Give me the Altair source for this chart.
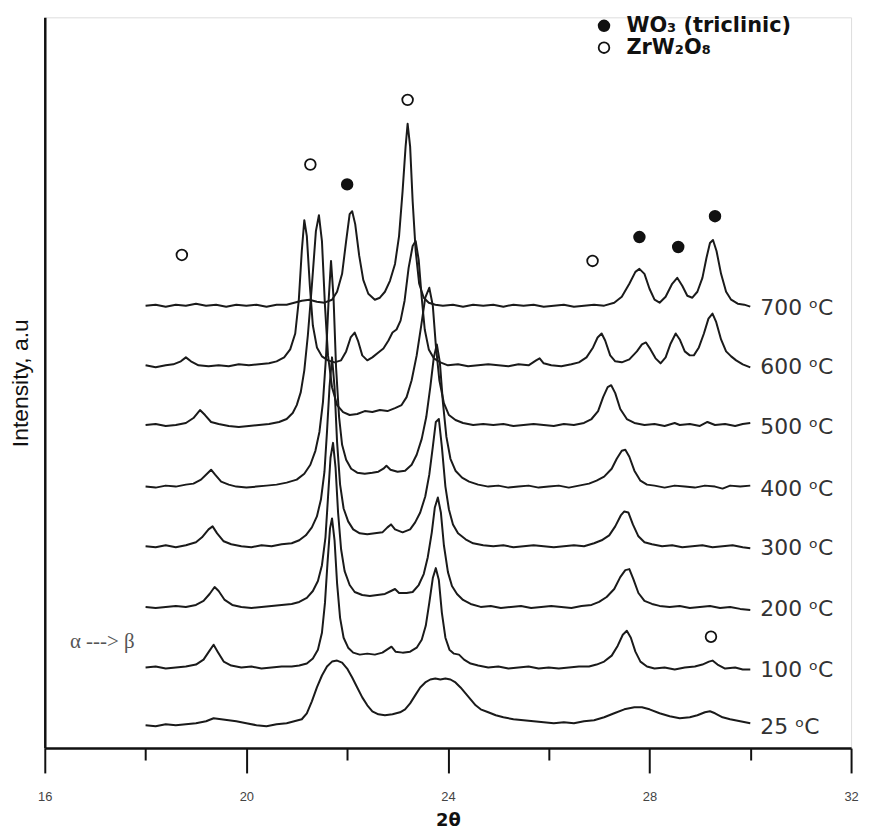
import altair as alt
import pandas as pd

# ---------------- data ----------------
TEMPS = ["25", "100", "200", "300", "400", "500", "600", "700"]
# vertical offset of every pattern (intensity units)
OFFSETS = [23, 81, 142, 203, 263, 325, 385, 445]

P25 = [(18.0,0),(18.2,-1),(18.4,1),(18.6,0),(18.8,1),(19.0,2),(19.2,4),(19.35,7),(19.5,6),(19.65,5),(19.8,4),(20.0,2),(20.2,0),(20.4,-1),(20.6,1),(20.8,2),(20.95,4),(21.1,6),(21.2,12),(21.3,24),(21.4,38),(21.5,50),(21.6,59),(21.7,64),(21.8,65),(21.9,63),(22.0,57),(22.1,48),(22.2,38),(22.3,28),(22.4,20),(22.5,14),(22.62,11),(22.75,10),(22.9,11),(23.05,13),(23.15,16),(23.25,22),(23.35,30),(23.45,38),(23.55,43),(23.65,46),(23.75,47),(23.85,46),(23.95,47),(24.05,46),(24.15,43),(24.25,38),(24.35,32),(24.45,26),(24.55,20),(24.65,16),(24.8,13),(24.95,10),(25.1,8),(25.3,6),(25.5,5),(25.7,4),(25.9,3),(26.1,2),(26.3,3),(26.5,2),(26.7,4),(26.9,5),(27.1,8),(27.3,12),(27.5,16),(27.7,18),(27.85,18),(28.0,16),(28.2,12),(28.4,9),(28.6,7),(28.8,8),(28.95,10),(29.1,13),(29.2,14),(29.3,12),(29.45,8),(29.6,6),(29.8,4),(30.0,2)]

P100 = [(18.0,0),(18.2,1),(18.4,-1),(18.6,0),(18.8,1),(19.0,3),(19.15,8),(19.27,17),(19.35,23),(19.43,16),(19.55,6),(19.7,2),(19.9,0),(20.1,1),(20.3,-1),(20.5,0),(20.7,1),(20.9,1),(21.05,2),(21.2,4),(21.32,9),(21.42,18),(21.5,35),(21.56,65),(21.61,105),(21.66,140),(21.7,150),(21.75,128),(21.8,85),(21.86,50),(21.93,30),(22.02,20),(22.12,15),(22.25,13),(22.4,14),(22.55,13),(22.7,15),(22.82,19),(22.88,21),(22.96,16),(23.1,15),(23.25,16),(23.38,20),(23.48,28),(23.56,42),(23.63,65),(23.7,90),(23.76,100),(23.82,88),(23.88,55),(23.95,30),(24.03,18),(24.12,14),(24.22,13),(24.32,8),(24.45,4),(24.6,2),(24.8,0),(25.0,1),(25.2,-1),(25.4,0),(25.6,1),(25.8,-1),(26.0,0),(26.2,-1),(26.4,0),(26.6,1),(26.8,1),(26.95,3),(27.1,6),(27.25,12),(27.37,22),(27.47,33),(27.55,37),(27.63,30),(27.72,16),(27.82,6),(27.95,1),(28.1,-1),(28.3,0),(28.5,-2),(28.7,0),(28.9,1),(29.05,3),(29.18,6),(29.25,7),(29.35,3),(29.5,-1),(29.7,0),(29.85,-2),(30.0,-2)]

P200 = [(18.0,0),(18.2,-1),(18.4,0),(18.6,1),(18.8,0),(19.0,2),(19.15,6),(19.27,13),(19.37,20),(19.45,16),(19.57,7),(19.72,2),(19.9,0),(20.1,-1),(20.3,0),(20.5,1),(20.7,2),(20.9,3),(21.05,5),(21.2,9),(21.32,16),(21.42,26),(21.5,42),(21.57,70),(21.62,110),(21.67,150),(21.72,165),(21.77,140),(21.82,95),(21.88,58),(21.95,36),(22.05,22),(22.15,15),(22.3,12),(22.45,11),(22.6,12),(22.75,13),(22.87,16),(22.95,18),(23.03,14),(23.18,14),(23.3,15),(23.42,22),(23.52,33),(23.6,50),(23.68,75),(23.74,100),(23.8,110),(23.86,95),(23.92,62),(24.0,35),(24.08,21),(24.18,13),(24.3,7),(24.45,3),(24.65,0),(24.85,1),(25.05,-1),(25.25,0),(25.45,1),(25.65,-1),(25.85,0),(26.05,1),(26.25,0),(26.45,-1),(26.65,1),(26.85,2),(27.0,5),(27.15,10),(27.3,18),(27.42,30),(27.52,37),(27.6,38),(27.68,28),(27.78,14),(27.9,6),(28.05,3),(28.2,1),(28.4,0),(28.6,1),(28.8,-1),(29.0,0),(29.2,1),(29.4,-1),(29.6,0),(29.8,-2),(30.0,-3)]

P300 = [(18.0,0),(18.2,-1),(18.4,1),(18.6,-1),(18.8,1),(19.0,4),(19.12,9),(19.25,17),(19.33,20),(19.42,13),(19.55,5),(19.7,2),(19.9,0),(20.1,-1),(20.3,1),(20.5,0),(20.7,2),(20.9,3),(21.05,6),(21.18,11),(21.3,19),(21.4,30),(21.48,47),(21.55,75),(21.6,115),(21.65,160),(21.7,190),(21.75,160),(21.8,105),(21.86,62),(21.93,38),(22.02,25),(22.12,17),(22.25,13),(22.4,12),(22.55,13),(22.7,14),(22.8,19),(22.87,22),(22.95,17),(23.1,14),(23.25,17),(23.35,24),(23.45,34),(23.55,50),(23.63,72),(23.7,100),(23.76,125),(23.82,128),(23.88,100),(23.95,60),(24.02,37),(24.1,22),(24.2,13),(24.35,7),(24.5,3),(24.7,1),(24.9,0),(25.1,1),(25.3,-1),(25.5,0),(25.7,1),(25.9,0),(26.1,-1),(26.3,0),(26.5,1),(26.7,0),(26.9,3),(27.05,6),(27.2,11),(27.32,20),(27.43,31),(27.5,35),(27.58,34),(27.67,22),(27.78,10),(27.9,4),(28.05,2),(28.25,0),(28.45,1),(28.65,-1),(28.85,0),(29.05,1),(29.25,-1),(29.45,0),(29.65,1),(29.85,-1),(30.0,-2)]

P400 = [(18.0,0),(18.2,-1),(18.4,1),(18.6,0),(18.8,2),(18.95,3),(19.1,7),(19.22,13),(19.3,17),(19.38,12),(19.5,5),(19.65,2),(19.8,0),(20.0,-1),(20.2,0),(20.4,1),(20.6,2),(20.8,4),(21.0,7),(21.15,13),(21.27,22),(21.37,36),(21.45,55),(21.52,85),(21.58,130),(21.63,185),(21.68,227),(21.73,190),(21.78,120),(21.84,70),(21.9,42),(21.98,27),(22.08,18),(22.2,14),(22.35,13),(22.5,14),(22.62,15),(22.72,18),(22.78,21),(22.86,17),(23.0,15),(23.15,16),(23.28,22),(23.38,32),(23.48,48),(23.57,70),(23.65,100),(23.72,130),(23.78,143),(23.84,125),(23.9,85),(23.97,50),(24.05,28),(24.15,16),(24.28,9),(24.42,5),(24.6,2),(24.8,0),(25.0,1),(25.2,-1),(25.4,0),(25.6,1),(25.8,-1),(26.0,0),(26.2,1),(26.4,-1),(26.6,1),(26.8,3),(26.95,6),(27.1,10),(27.25,18),(27.35,28),(27.45,36),(27.52,37),(27.6,30),(27.7,16),(27.82,6),(27.95,2),(28.1,1),(28.3,-1),(28.5,1),(28.7,0),(28.9,-1),(29.1,1),(29.3,0),(29.45,-2),(29.6,1),(29.8,0),(30.0,1)]

P500 = [(18.0,0),(18.2,1),(18.4,-1),(18.6,0),(18.8,2),(18.95,7),(19.08,15),(19.18,10),(19.3,3),(19.45,1),(19.65,-1),(19.85,-2),(20.05,-1),(20.25,0),(20.45,1),(20.65,3),(20.8,6),(20.92,12),(21.0,20),(21.08,33),(21.15,55),(21.22,90),(21.3,140),(21.38,195),(21.44,211),(21.5,185),(21.56,120),(21.62,70),(21.7,38),(21.8,20),(21.92,13),(22.05,10),(22.2,11),(22.35,14),(22.5,13),(22.65,15),(22.8,14),(22.95,17),(23.08,20),(23.18,28),(23.28,45),(23.38,70),(23.47,100),(23.55,128),(23.63,138),(23.7,120),(23.76,80),(23.83,45),(23.92,22),(24.02,10),(24.15,5),(24.3,2),(24.5,0),(24.7,1),(24.9,0),(25.1,1),(25.3,-1),(25.5,0),(25.7,1),(25.9,0),(26.1,-1),(26.3,1),(26.5,0),(26.7,2),(26.85,6),(26.98,14),(27.08,28),(27.17,38),(27.24,40),(27.32,32),(27.42,16),(27.55,6),(27.7,2),(27.9,0),(28.1,1),(28.3,-1),(28.5,2),(28.6,0),(28.8,1),(29.0,-1),(29.15,3),(29.3,0),(29.5,1),(29.7,-1),(29.85,1),(30.0,2)]

P600 = [(18.0,0),(18.2,-2),(18.4,0),(18.55,1),(18.7,4),(18.8,8),(18.9,4),(19.05,0),(19.25,-1),(19.45,0),(19.65,-1),(19.85,1),(20.05,0),(20.25,1),(20.45,2),(20.6,4),(20.75,8),(20.87,16),(20.97,32),(21.04,65),(21.1,115),(21.15,146),(21.2,130),(21.26,80),(21.32,40),(21.4,18),(21.5,9),(21.62,5),(21.75,3),(21.88,5),(21.98,14),(22.07,28),(22.15,33),(22.22,24),(22.3,10),(22.4,5),(22.5,8),(22.62,13),(22.72,17),(22.82,25),(22.9,33),(22.98,36),(23.06,45),(23.14,65),(23.22,98),(23.3,120),(23.36,125),(23.42,106),(23.48,68),(23.54,36),(23.62,16),(23.72,7),(23.85,3),(24.0,0),(24.2,1),(24.4,-1),(24.6,0),(24.8,1),(25.0,0),(25.2,-1),(25.4,1),(25.6,0),(25.75,5),(25.82,7),(25.9,2),(26.05,0),(26.25,-1),(26.45,1),(26.6,3),(26.75,8),(26.88,18),(26.97,28),(27.05,32),(27.12,25),(27.22,10),(27.32,4),(27.45,3),(27.6,6),(27.75,14),(27.85,21),(27.93,23),(28.02,16),(28.12,7),(28.22,2),(28.32,8),(28.42,22),(28.52,32),(28.6,26),(28.7,14),(28.8,10),(28.88,10),(28.98,18),(29.08,32),(29.17,47),(29.25,52),(29.32,44),(29.42,26),(29.52,14),(29.62,9),(29.72,5),(29.85,1),(30.0,-2)]

P700 = [(18.0,0),(18.2,1),(18.4,-1),(18.6,1),(18.8,0),(19.0,2),(19.2,0),(19.4,1),(19.6,-1),(19.8,1),(20.0,0),(20.2,1),(20.4,-1),(20.6,1),(20.8,1),(20.95,3),(21.1,5),(21.25,6),(21.4,4),(21.55,3),(21.7,6),(21.8,14),(21.9,32),(21.98,65),(22.05,92),(22.1,95),(22.16,82),(22.24,50),(22.32,26),(22.42,12),(22.55,6),(22.65,8),(22.75,14),(22.85,25),(22.95,42),(23.03,70),(23.1,115),(23.16,160),(23.2,183),(23.25,160),(23.3,105),(23.36,55),(23.43,22),(23.52,8),(23.62,3),(23.75,1),(23.9,0),(24.1,1),(24.3,-1),(24.5,1),(24.7,0),(24.9,1),(25.1,-1),(25.3,1),(25.5,0),(25.7,1),(25.9,-1),(26.1,0),(26.3,1),(26.5,-1),(26.7,0),(26.9,1),(27.1,0),(27.3,3),(27.45,9),(27.6,22),(27.72,34),(27.8,37),(27.9,32),(28.0,17),(28.1,6),(28.2,3),(28.32,9),(28.45,22),(28.55,28),(28.65,20),(28.75,10),(28.85,8),(28.95,14),(29.05,28),(29.13,48),(29.2,63),(29.26,66),(29.33,55),(29.42,32),(29.52,14),(29.62,6),(29.75,2),(29.88,1),(30.0,-1)]

PATTERNS = [P25, P100, P200, P300, P400, P500, P600, P700]

# phase markers (2theta, intensity)
WO3_NAME = "WO\u2083 (triclinic)"
ZRW_NAME = "ZrW\u2082O\u2088"
MARK_THETA = [18.72, 21.27, 22.0, 23.2, 26.87, 27.8, 28.57, 29.3, 29.22]
MARK_INT = [496, 587, 567, 652, 490, 514, 504, 535, 112]
MARK_PHASE = [ZRW_NAME, ZRW_NAME, WO3_NAME, ZRW_NAME, ZRW_NAME, WO3_NAME, WO3_NAME, WO3_NAME, ZRW_NAME]

LABEL_THETA = 30.2
NOTE_TEXT = "\u03b1 ---> \u03b2"
NOTE_THETA = 16.5
NOTE_INT = 107

# ---------------- tables ----------------
rows = []
for t, off, pat in zip(TEMPS, OFFSETS, PATTERNS):
    for i, (x, h) in enumerate(pat):
        rows.append({"temp": t, "idx": i, "theta": x, "I": off + h})
df = pd.DataFrame(rows)

labels = pd.DataFrame({"temp": TEMPS, "I": OFFSETS,
                       "text": [f"{t} \u1d52C" for t in TEMPS],
                       "theta": [LABEL_THETA] * len(TEMPS)})
marks = pd.DataFrame({"theta": MARK_THETA, "I": MARK_INT, "phase": MARK_PHASE})
note = pd.DataFrame({"theta": [NOTE_THETA], "I": [NOTE_INT], "text": [NOTE_TEXT]})

xscale = alt.Scale(domain=[16, 32], nice=False, zero=False)
yscale = alt.Scale(domain=[0, 735], nice=False, zero=False)

x_axis = alt.Axis(
    values=[16, 18, 20, 22, 24, 26, 28, 30, 32],
    labelExpr="datum.value % 4 === 0 ? datum.label : ''",
    tickSize={"condition": {"test": "datum.value % 4 === 0", "value": 25}, "value": 12},
    tickWidth=2, tickColor="#111", domainColor="#111", domainWidth=2.5,
    labelFont="Liberation Sans Narrow, Liberation Sans", labelFontSize=13, labelColor="#444",
    labelPadding=18, labelFlush=False, labelOverlap=False, grid=False,
    title="2\u03b8", titleFont="DejaVu Sans", titleFontSize=18, titleFontWeight="bold",
    titleColor="#111", titlePadding=8,
)
y_axis = alt.Axis(
    ticks=False, labels=False, grid=False, domainColor="#111", domainWidth=2.5,
    title="Intensity, a.u", titleFont="Liberation Sans", titleFontSize=23,
    titleFontWeight="normal", titleColor="#111", titlePadding=12,
)

lines = alt.Chart(df).mark_line(color="#1a1a1a", strokeWidth=2, strokeJoin="round").encode(
    x=alt.X("theta:Q", scale=xscale, axis=x_axis),
    y=alt.Y("I:Q", scale=yscale, axis=y_axis),
    detail="temp:N",
    order="idx:Q",
)

points = alt.Chart(marks).mark_point(shape="circle", filled=True, size=115, stroke="#111",
                                     strokeWidth=1.8, opacity=1).encode(
    x=alt.X("theta:Q", scale=xscale),
    y=alt.Y("I:Q", scale=yscale),
    fill=alt.Fill("phase:N", scale=alt.Scale(domain=[WO3_NAME, ZRW_NAME], range=["#111", "white"]),
                  legend=alt.Legend(orient="none", legendX=552, legendY=-2, title=None,
                                    labelFont="DejaVu Sans", labelFontSize=21, labelFontWeight="bold",
                                    labelColor="#111", labelLimit=0, symbolType="circle", symbolSize=115,
                                    symbolStrokeColor="#111", symbolStrokeWidth=1.8,
                                    symbolOpacity=1, rowPadding=0, labelOffset=12, padding=0)),
)

temp_text = alt.Chart(labels).mark_text(align="left", baseline="middle", font="DejaVu Sans",
                                        fontSize=22, color="#333", dy=2).encode(
    x=alt.X("theta:Q", scale=xscale),
    y=alt.Y("I:Q", scale=yscale),
    text="text:N",
)

note_text = alt.Chart(note).mark_text(align="left", baseline="middle", font="Liberation Serif",
                                      fontSize=21, color="#555").encode(
    x=alt.X("theta:Q", scale=xscale),
    y=alt.Y("I:Q", scale=yscale),
    text="text:N",
)

chart = alt.layer(lines, points, temp_text, note_text).properties(
    width=811, height=735,
    autosize=alt.AutoSizeParams(type="none"),
    padding={"left": 37, "top": 7, "right": 12, "bottom": 82},
).configure_view(stroke=None).configure(background="white")

chart.save("out.html", embed_options={"renderer": "svg", "actions": False})
